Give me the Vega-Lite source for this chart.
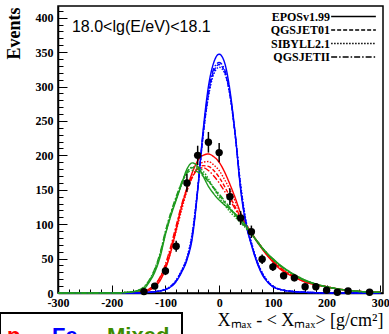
{
"$schema": "https://vega.github.io/schema/vega-lite/v6.json",
"width": 325, "height": 287,
"autosize": {"type": "none"},
"padding": {"left": 58, "top": 6, "right": 6, "bottom": 41},
"background": "white",
"config": {"view": {"stroke": "black", "strokeWidth": 1.5}},
"resolve": {"axis": {"x": "independent", "y": "independent"}},
"datasets": {
"curves": [
{"c":"p","m":"EPOSv1.99","x":-300,"y":0},{"c":"p","m":"EPOSv1.99","x":-200,"y":0},{"c":"p","m":"EPOSv1.99","x":-180,"y":0},{"c":"p","m":"EPOSv1.99","x":-160,"y":0.5},{"c":"p","m":"EPOSv1.99","x":-150,"y":1},{"c":"p","m":"EPOSv1.99","x":-140,"y":2},{"c":"p","m":"EPOSv1.99","x":-130,"y":4},{"c":"p","m":"EPOSv1.99","x":-120,"y":9},{"c":"p","m":"EPOSv1.99","x":-110,"y":18},{"c":"p","m":"EPOSv1.99","x":-100,"y":35},{"c":"p","m":"EPOSv1.99","x":-90,"y":60},{"c":"p","m":"EPOSv1.99","x":-80,"y":92},{"c":"p","m":"EPOSv1.99","x":-70,"y":125},{"c":"p","m":"EPOSv1.99","x":-60,"y":152},{"c":"p","m":"EPOSv1.99","x":-50,"y":175},{"c":"p","m":"EPOSv1.99","x":-40,"y":192},{"c":"p","m":"EPOSv1.99","x":-30,"y":200},{"c":"p","m":"EPOSv1.99","x":-20,"y":202},{"c":"p","m":"EPOSv1.99","x":-10,"y":198},{"c":"p","m":"EPOSv1.99","x":0,"y":190},{"c":"p","m":"EPOSv1.99","x":10,"y":176},{"c":"p","m":"EPOSv1.99","x":20,"y":158},{"c":"p","m":"EPOSv1.99","x":30,"y":138},{"c":"p","m":"EPOSv1.99","x":40,"y":116},{"c":"p","m":"EPOSv1.99","x":50,"y":100},{"c":"p","m":"EPOSv1.99","x":60,"y":87},{"c":"p","m":"EPOSv1.99","x":70,"y":75},{"c":"p","m":"EPOSv1.99","x":80,"y":64},{"c":"p","m":"EPOSv1.99","x":90,"y":54},{"c":"p","m":"EPOSv1.99","x":100,"y":45},{"c":"p","m":"EPOSv1.99","x":110,"y":37},{"c":"p","m":"EPOSv1.99","x":120,"y":31},{"c":"p","m":"EPOSv1.99","x":140,"y":23},{"c":"p","m":"EPOSv1.99","x":160,"y":16},{"c":"p","m":"EPOSv1.99","x":180,"y":12},{"c":"p","m":"EPOSv1.99","x":200,"y":9},{"c":"p","m":"EPOSv1.99","x":220,"y":6},{"c":"p","m":"EPOSv1.99","x":250,"y":3},{"c":"p","m":"EPOSv1.99","x":300,"y":1},
{"c":"p","m":"QGSJET01","x":-300,"y":0},{"c":"p","m":"QGSJET01","x":-200,"y":0},{"c":"p","m":"QGSJET01","x":-180,"y":0},{"c":"p","m":"QGSJET01","x":-160,"y":0.5},{"c":"p","m":"QGSJET01","x":-150,"y":1.5},{"c":"p","m":"QGSJET01","x":-140,"y":3},{"c":"p","m":"QGSJET01","x":-130,"y":6},{"c":"p","m":"QGSJET01","x":-120,"y":12},{"c":"p","m":"QGSJET01","x":-110,"y":22},{"c":"p","m":"QGSJET01","x":-100,"y":40},{"c":"p","m":"QGSJET01","x":-90,"y":65},{"c":"p","m":"QGSJET01","x":-80,"y":95},{"c":"p","m":"QGSJET01","x":-70,"y":125},{"c":"p","m":"QGSJET01","x":-60,"y":150},{"c":"p","m":"QGSJET01","x":-50,"y":168},{"c":"p","m":"QGSJET01","x":-40,"y":180},{"c":"p","m":"QGSJET01","x":-30,"y":185},{"c":"p","m":"QGSJET01","x":-20,"y":184},{"c":"p","m":"QGSJET01","x":-10,"y":178},{"c":"p","m":"QGSJET01","x":0,"y":168},{"c":"p","m":"QGSJET01","x":10,"y":155},{"c":"p","m":"QGSJET01","x":20,"y":140},{"c":"p","m":"QGSJET01","x":30,"y":125},{"c":"p","m":"QGSJET01","x":40,"y":110},{"c":"p","m":"QGSJET01","x":50,"y":98},{"c":"p","m":"QGSJET01","x":60,"y":87},{"c":"p","m":"QGSJET01","x":70,"y":76},{"c":"p","m":"QGSJET01","x":80,"y":65},{"c":"p","m":"QGSJET01","x":90,"y":55},{"c":"p","m":"QGSJET01","x":100,"y":47},{"c":"p","m":"QGSJET01","x":110,"y":39},{"c":"p","m":"QGSJET01","x":120,"y":33},{"c":"p","m":"QGSJET01","x":140,"y":24},{"c":"p","m":"QGSJET01","x":160,"y":17},{"c":"p","m":"QGSJET01","x":180,"y":12},{"c":"p","m":"QGSJET01","x":200,"y":9},{"c":"p","m":"QGSJET01","x":220,"y":6},{"c":"p","m":"QGSJET01","x":250,"y":3},{"c":"p","m":"QGSJET01","x":300,"y":1},
{"c":"p","m":"SIBYLL2.1","x":-300,"y":0},{"c":"p","m":"SIBYLL2.1","x":-200,"y":0},{"c":"p","m":"SIBYLL2.1","x":-180,"y":0},{"c":"p","m":"SIBYLL2.1","x":-160,"y":0.5},{"c":"p","m":"SIBYLL2.1","x":-150,"y":1},{"c":"p","m":"SIBYLL2.1","x":-140,"y":2},{"c":"p","m":"SIBYLL2.1","x":-130,"y":5},{"c":"p","m":"SIBYLL2.1","x":-120,"y":10},{"c":"p","m":"SIBYLL2.1","x":-110,"y":19},{"c":"p","m":"SIBYLL2.1","x":-100,"y":36},{"c":"p","m":"SIBYLL2.1","x":-90,"y":60},{"c":"p","m":"SIBYLL2.1","x":-80,"y":90},{"c":"p","m":"SIBYLL2.1","x":-70,"y":120},{"c":"p","m":"SIBYLL2.1","x":-60,"y":148},{"c":"p","m":"SIBYLL2.1","x":-50,"y":168},{"c":"p","m":"SIBYLL2.1","x":-40,"y":183},{"c":"p","m":"SIBYLL2.1","x":-30,"y":190},{"c":"p","m":"SIBYLL2.1","x":-20,"y":191},{"c":"p","m":"SIBYLL2.1","x":-10,"y":186},{"c":"p","m":"SIBYLL2.1","x":0,"y":178},{"c":"p","m":"SIBYLL2.1","x":10,"y":165},{"c":"p","m":"SIBYLL2.1","x":20,"y":150},{"c":"p","m":"SIBYLL2.1","x":30,"y":133},{"c":"p","m":"SIBYLL2.1","x":40,"y":115},{"c":"p","m":"SIBYLL2.1","x":50,"y":100},{"c":"p","m":"SIBYLL2.1","x":60,"y":88},{"c":"p","m":"SIBYLL2.1","x":70,"y":76},{"c":"p","m":"SIBYLL2.1","x":80,"y":65},{"c":"p","m":"SIBYLL2.1","x":90,"y":55},{"c":"p","m":"SIBYLL2.1","x":100,"y":46},{"c":"p","m":"SIBYLL2.1","x":110,"y":38},{"c":"p","m":"SIBYLL2.1","x":120,"y":32},{"c":"p","m":"SIBYLL2.1","x":140,"y":23},{"c":"p","m":"SIBYLL2.1","x":160,"y":16},{"c":"p","m":"SIBYLL2.1","x":180,"y":12},{"c":"p","m":"SIBYLL2.1","x":200,"y":9},{"c":"p","m":"SIBYLL2.1","x":220,"y":6},{"c":"p","m":"SIBYLL2.1","x":250,"y":3},{"c":"p","m":"SIBYLL2.1","x":300,"y":1},
{"c":"p","m":"QGSJETII","x":-300,"y":0},{"c":"p","m":"QGSJETII","x":-200,"y":0},{"c":"p","m":"QGSJETII","x":-180,"y":0},{"c":"p","m":"QGSJETII","x":-160,"y":0.5},{"c":"p","m":"QGSJETII","x":-150,"y":1.5},{"c":"p","m":"QGSJETII","x":-140,"y":3},{"c":"p","m":"QGSJETII","x":-130,"y":6},{"c":"p","m":"QGSJETII","x":-120,"y":12},{"c":"p","m":"QGSJETII","x":-110,"y":23},{"c":"p","m":"QGSJETII","x":-100,"y":42},{"c":"p","m":"QGSJETII","x":-90,"y":68},{"c":"p","m":"QGSJETII","x":-80,"y":98},{"c":"p","m":"QGSJETII","x":-70,"y":128},{"c":"p","m":"QGSJETII","x":-60,"y":152},{"c":"p","m":"QGSJETII","x":-50,"y":170},{"c":"p","m":"QGSJETII","x":-40,"y":180},{"c":"p","m":"QGSJETII","x":-30,"y":182},{"c":"p","m":"QGSJETII","x":-20,"y":178},{"c":"p","m":"QGSJETII","x":-10,"y":170},{"c":"p","m":"QGSJETII","x":0,"y":160},{"c":"p","m":"QGSJETII","x":10,"y":148},{"c":"p","m":"QGSJETII","x":20,"y":135},{"c":"p","m":"QGSJETII","x":30,"y":122},{"c":"p","m":"QGSJETII","x":40,"y":108},{"c":"p","m":"QGSJETII","x":50,"y":97},{"c":"p","m":"QGSJETII","x":60,"y":87},{"c":"p","m":"QGSJETII","x":70,"y":76},{"c":"p","m":"QGSJETII","x":80,"y":66},{"c":"p","m":"QGSJETII","x":90,"y":56},{"c":"p","m":"QGSJETII","x":100,"y":47},{"c":"p","m":"QGSJETII","x":110,"y":40},{"c":"p","m":"QGSJETII","x":120,"y":33},{"c":"p","m":"QGSJETII","x":140,"y":24},{"c":"p","m":"QGSJETII","x":160,"y":17},{"c":"p","m":"QGSJETII","x":180,"y":12},{"c":"p","m":"QGSJETII","x":200,"y":9},{"c":"p","m":"QGSJETII","x":220,"y":6},{"c":"p","m":"QGSJETII","x":250,"y":3},{"c":"p","m":"QGSJETII","x":300,"y":1},
{"c":"Fe","m":"EPOSv1.99","x":-300,"y":0},{"c":"Fe","m":"EPOSv1.99","x":-200,"y":0},{"c":"Fe","m":"EPOSv1.99","x":-180,"y":0},{"c":"Fe","m":"EPOSv1.99","x":-160,"y":0},{"c":"Fe","m":"EPOSv1.99","x":-150,"y":0},{"c":"Fe","m":"EPOSv1.99","x":-140,"y":0.5},{"c":"Fe","m":"EPOSv1.99","x":-130,"y":1},{"c":"Fe","m":"EPOSv1.99","x":-120,"y":2},{"c":"Fe","m":"EPOSv1.99","x":-110,"y":3},{"c":"Fe","m":"EPOSv1.99","x":-100,"y":5},{"c":"Fe","m":"EPOSv1.99","x":-90,"y":9},{"c":"Fe","m":"EPOSv1.99","x":-80,"y":17},{"c":"Fe","m":"EPOSv1.99","x":-70,"y":30},{"c":"Fe","m":"EPOSv1.99","x":-60,"y":48},{"c":"Fe","m":"EPOSv1.99","x":-50,"y":80},{"c":"Fe","m":"EPOSv1.99","x":-40,"y":148},{"c":"Fe","m":"EPOSv1.99","x":-30,"y":235},{"c":"Fe","m":"EPOSv1.99","x":-20,"y":300},{"c":"Fe","m":"EPOSv1.99","x":-10,"y":335},{"c":"Fe","m":"EPOSv1.99","x":0,"y":347},{"c":"Fe","m":"EPOSv1.99","x":10,"y":335},{"c":"Fe","m":"EPOSv1.99","x":20,"y":295},{"c":"Fe","m":"EPOSv1.99","x":30,"y":230},{"c":"Fe","m":"EPOSv1.99","x":40,"y":150},{"c":"Fe","m":"EPOSv1.99","x":50,"y":100},{"c":"Fe","m":"EPOSv1.99","x":60,"y":70},{"c":"Fe","m":"EPOSv1.99","x":70,"y":45},{"c":"Fe","m":"EPOSv1.99","x":80,"y":27},{"c":"Fe","m":"EPOSv1.99","x":90,"y":16},{"c":"Fe","m":"EPOSv1.99","x":100,"y":9},{"c":"Fe","m":"EPOSv1.99","x":110,"y":6},{"c":"Fe","m":"EPOSv1.99","x":120,"y":4},{"c":"Fe","m":"EPOSv1.99","x":140,"y":2},{"c":"Fe","m":"EPOSv1.99","x":160,"y":1},{"c":"Fe","m":"EPOSv1.99","x":180,"y":0.5},{"c":"Fe","m":"EPOSv1.99","x":200,"y":0},{"c":"Fe","m":"EPOSv1.99","x":220,"y":0},{"c":"Fe","m":"EPOSv1.99","x":250,"y":0},{"c":"Fe","m":"EPOSv1.99","x":300,"y":0},
{"c":"Fe","m":"QGSJET01","x":-300,"y":0},{"c":"Fe","m":"QGSJET01","x":-200,"y":0},{"c":"Fe","m":"QGSJET01","x":-180,"y":0},{"c":"Fe","m":"QGSJET01","x":-160,"y":0},{"c":"Fe","m":"QGSJET01","x":-150,"y":0},{"c":"Fe","m":"QGSJET01","x":-140,"y":0.5},{"c":"Fe","m":"QGSJET01","x":-130,"y":1},{"c":"Fe","m":"QGSJET01","x":-120,"y":2},{"c":"Fe","m":"QGSJET01","x":-110,"y":3},{"c":"Fe","m":"QGSJET01","x":-100,"y":5},{"c":"Fe","m":"QGSJET01","x":-90,"y":10},{"c":"Fe","m":"QGSJET01","x":-80,"y":18},{"c":"Fe","m":"QGSJET01","x":-70,"y":32},{"c":"Fe","m":"QGSJET01","x":-60,"y":50},{"c":"Fe","m":"QGSJET01","x":-50,"y":85},{"c":"Fe","m":"QGSJET01","x":-40,"y":150},{"c":"Fe","m":"QGSJET01","x":-30,"y":228},{"c":"Fe","m":"QGSJET01","x":-20,"y":288},{"c":"Fe","m":"QGSJET01","x":-10,"y":322},{"c":"Fe","m":"QGSJET01","x":0,"y":332},{"c":"Fe","m":"QGSJET01","x":10,"y":322},{"c":"Fe","m":"QGSJET01","x":20,"y":288},{"c":"Fe","m":"QGSJET01","x":30,"y":228},{"c":"Fe","m":"QGSJET01","x":40,"y":155},{"c":"Fe","m":"QGSJET01","x":50,"y":102},{"c":"Fe","m":"QGSJET01","x":60,"y":72},{"c":"Fe","m":"QGSJET01","x":70,"y":47},{"c":"Fe","m":"QGSJET01","x":80,"y":29},{"c":"Fe","m":"QGSJET01","x":90,"y":17},{"c":"Fe","m":"QGSJET01","x":100,"y":10},{"c":"Fe","m":"QGSJET01","x":110,"y":6},{"c":"Fe","m":"QGSJET01","x":120,"y":4},{"c":"Fe","m":"QGSJET01","x":140,"y":2},{"c":"Fe","m":"QGSJET01","x":160,"y":1},{"c":"Fe","m":"QGSJET01","x":180,"y":0.5},{"c":"Fe","m":"QGSJET01","x":200,"y":0},{"c":"Fe","m":"QGSJET01","x":220,"y":0},{"c":"Fe","m":"QGSJET01","x":250,"y":0},{"c":"Fe","m":"QGSJET01","x":300,"y":0},
{"c":"Fe","m":"SIBYLL2.1","x":-300,"y":0},{"c":"Fe","m":"SIBYLL2.1","x":-200,"y":0},{"c":"Fe","m":"SIBYLL2.1","x":-180,"y":0},{"c":"Fe","m":"SIBYLL2.1","x":-160,"y":0},{"c":"Fe","m":"SIBYLL2.1","x":-150,"y":0},{"c":"Fe","m":"SIBYLL2.1","x":-140,"y":0.5},{"c":"Fe","m":"SIBYLL2.1","x":-130,"y":1},{"c":"Fe","m":"SIBYLL2.1","x":-120,"y":2},{"c":"Fe","m":"SIBYLL2.1","x":-110,"y":3},{"c":"Fe","m":"SIBYLL2.1","x":-100,"y":6},{"c":"Fe","m":"SIBYLL2.1","x":-90,"y":10},{"c":"Fe","m":"SIBYLL2.1","x":-80,"y":19},{"c":"Fe","m":"SIBYLL2.1","x":-70,"y":33},{"c":"Fe","m":"SIBYLL2.1","x":-60,"y":52},{"c":"Fe","m":"SIBYLL2.1","x":-50,"y":88},{"c":"Fe","m":"SIBYLL2.1","x":-40,"y":152},{"c":"Fe","m":"SIBYLL2.1","x":-30,"y":228},{"c":"Fe","m":"SIBYLL2.1","x":-20,"y":285},{"c":"Fe","m":"SIBYLL2.1","x":-10,"y":318},{"c":"Fe","m":"SIBYLL2.1","x":0,"y":328},{"c":"Fe","m":"SIBYLL2.1","x":10,"y":320},{"c":"Fe","m":"SIBYLL2.1","x":20,"y":288},{"c":"Fe","m":"SIBYLL2.1","x":30,"y":230},{"c":"Fe","m":"SIBYLL2.1","x":40,"y":158},{"c":"Fe","m":"SIBYLL2.1","x":50,"y":105},{"c":"Fe","m":"SIBYLL2.1","x":60,"y":74},{"c":"Fe","m":"SIBYLL2.1","x":70,"y":48},{"c":"Fe","m":"SIBYLL2.1","x":80,"y":30},{"c":"Fe","m":"SIBYLL2.1","x":90,"y":18},{"c":"Fe","m":"SIBYLL2.1","x":100,"y":10},{"c":"Fe","m":"SIBYLL2.1","x":110,"y":6},{"c":"Fe","m":"SIBYLL2.1","x":120,"y":4},{"c":"Fe","m":"SIBYLL2.1","x":140,"y":2},{"c":"Fe","m":"SIBYLL2.1","x":160,"y":1},{"c":"Fe","m":"SIBYLL2.1","x":180,"y":0.5},{"c":"Fe","m":"SIBYLL2.1","x":200,"y":0},{"c":"Fe","m":"SIBYLL2.1","x":220,"y":0},{"c":"Fe","m":"SIBYLL2.1","x":250,"y":0},{"c":"Fe","m":"SIBYLL2.1","x":300,"y":0},
{"c":"Fe","m":"QGSJETII","x":-300,"y":0},{"c":"Fe","m":"QGSJETII","x":-200,"y":0},{"c":"Fe","m":"QGSJETII","x":-180,"y":0},{"c":"Fe","m":"QGSJETII","x":-160,"y":0},{"c":"Fe","m":"QGSJETII","x":-150,"y":0},{"c":"Fe","m":"QGSJETII","x":-140,"y":0.5},{"c":"Fe","m":"QGSJETII","x":-130,"y":1},{"c":"Fe","m":"QGSJETII","x":-120,"y":2},{"c":"Fe","m":"QGSJETII","x":-110,"y":3},{"c":"Fe","m":"QGSJETII","x":-100,"y":5},{"c":"Fe","m":"QGSJETII","x":-90,"y":9},{"c":"Fe","m":"QGSJETII","x":-80,"y":17},{"c":"Fe","m":"QGSJETII","x":-70,"y":31},{"c":"Fe","m":"QGSJETII","x":-60,"y":49},{"c":"Fe","m":"QGSJETII","x":-50,"y":83},{"c":"Fe","m":"QGSJETII","x":-40,"y":150},{"c":"Fe","m":"QGSJETII","x":-30,"y":232},{"c":"Fe","m":"QGSJETII","x":-20,"y":292},{"c":"Fe","m":"QGSJETII","x":-10,"y":326},{"c":"Fe","m":"QGSJETII","x":0,"y":335},{"c":"Fe","m":"QGSJETII","x":10,"y":325},{"c":"Fe","m":"QGSJETII","x":20,"y":290},{"c":"Fe","m":"QGSJETII","x":30,"y":229},{"c":"Fe","m":"QGSJETII","x":40,"y":152},{"c":"Fe","m":"QGSJETII","x":50,"y":101},{"c":"Fe","m":"QGSJETII","x":60,"y":71},{"c":"Fe","m":"QGSJETII","x":70,"y":46},{"c":"Fe","m":"QGSJETII","x":80,"y":28},{"c":"Fe","m":"QGSJETII","x":90,"y":17},{"c":"Fe","m":"QGSJETII","x":100,"y":9},{"c":"Fe","m":"QGSJETII","x":110,"y":6},{"c":"Fe","m":"QGSJETII","x":120,"y":4},{"c":"Fe","m":"QGSJETII","x":140,"y":2},{"c":"Fe","m":"QGSJETII","x":160,"y":1},{"c":"Fe","m":"QGSJETII","x":180,"y":0.5},{"c":"Fe","m":"QGSJETII","x":200,"y":0},{"c":"Fe","m":"QGSJETII","x":220,"y":0},{"c":"Fe","m":"QGSJETII","x":250,"y":0},{"c":"Fe","m":"QGSJETII","x":300,"y":0},
{"c":"Mixed","m":"EPOSv1.99","x":-300,"y":0},{"c":"Mixed","m":"EPOSv1.99","x":-200,"y":0},{"c":"Mixed","m":"EPOSv1.99","x":-180,"y":0.5},{"c":"Mixed","m":"EPOSv1.99","x":-160,"y":2},{"c":"Mixed","m":"EPOSv1.99","x":-150,"y":3},{"c":"Mixed","m":"EPOSv1.99","x":-140,"y":6},{"c":"Mixed","m":"EPOSv1.99","x":-130,"y":16},{"c":"Mixed","m":"EPOSv1.99","x":-120,"y":30},{"c":"Mixed","m":"EPOSv1.99","x":-110,"y":52},{"c":"Mixed","m":"EPOSv1.99","x":-100,"y":85},{"c":"Mixed","m":"EPOSv1.99","x":-90,"y":112},{"c":"Mixed","m":"EPOSv1.99","x":-80,"y":135},{"c":"Mixed","m":"EPOSv1.99","x":-70,"y":158},{"c":"Mixed","m":"EPOSv1.99","x":-60,"y":180},{"c":"Mixed","m":"EPOSv1.99","x":-50,"y":189},{"c":"Mixed","m":"EPOSv1.99","x":-40,"y":184},{"c":"Mixed","m":"EPOSv1.99","x":-30,"y":170},{"c":"Mixed","m":"EPOSv1.99","x":-20,"y":155},{"c":"Mixed","m":"EPOSv1.99","x":-10,"y":144},{"c":"Mixed","m":"EPOSv1.99","x":0,"y":135},{"c":"Mixed","m":"EPOSv1.99","x":10,"y":128},{"c":"Mixed","m":"EPOSv1.99","x":20,"y":122},{"c":"Mixed","m":"EPOSv1.99","x":30,"y":115},{"c":"Mixed","m":"EPOSv1.99","x":40,"y":107},{"c":"Mixed","m":"EPOSv1.99","x":50,"y":98},{"c":"Mixed","m":"EPOSv1.99","x":60,"y":87},{"c":"Mixed","m":"EPOSv1.99","x":70,"y":75},{"c":"Mixed","m":"EPOSv1.99","x":80,"y":65},{"c":"Mixed","m":"EPOSv1.99","x":90,"y":57},{"c":"Mixed","m":"EPOSv1.99","x":100,"y":50},{"c":"Mixed","m":"EPOSv1.99","x":110,"y":43},{"c":"Mixed","m":"EPOSv1.99","x":120,"y":37},{"c":"Mixed","m":"EPOSv1.99","x":140,"y":27},{"c":"Mixed","m":"EPOSv1.99","x":160,"y":19},{"c":"Mixed","m":"EPOSv1.99","x":180,"y":13},{"c":"Mixed","m":"EPOSv1.99","x":200,"y":9},{"c":"Mixed","m":"EPOSv1.99","x":220,"y":6},{"c":"Mixed","m":"EPOSv1.99","x":250,"y":3},{"c":"Mixed","m":"EPOSv1.99","x":300,"y":1},
{"c":"Mixed","m":"QGSJET01","x":-300,"y":0},{"c":"Mixed","m":"QGSJET01","x":-200,"y":0},{"c":"Mixed","m":"QGSJET01","x":-180,"y":0.5},{"c":"Mixed","m":"QGSJET01","x":-160,"y":2},{"c":"Mixed","m":"QGSJET01","x":-150,"y":4},{"c":"Mixed","m":"QGSJET01","x":-140,"y":8},{"c":"Mixed","m":"QGSJET01","x":-130,"y":18},{"c":"Mixed","m":"QGSJET01","x":-120,"y":33},{"c":"Mixed","m":"QGSJET01","x":-110,"y":56},{"c":"Mixed","m":"QGSJET01","x":-100,"y":88},{"c":"Mixed","m":"QGSJET01","x":-90,"y":115},{"c":"Mixed","m":"QGSJET01","x":-80,"y":138},{"c":"Mixed","m":"QGSJET01","x":-70,"y":160},{"c":"Mixed","m":"QGSJET01","x":-60,"y":176},{"c":"Mixed","m":"QGSJET01","x":-50,"y":182},{"c":"Mixed","m":"QGSJET01","x":-40,"y":180},{"c":"Mixed","m":"QGSJET01","x":-30,"y":173},{"c":"Mixed","m":"QGSJET01","x":-20,"y":163},{"c":"Mixed","m":"QGSJET01","x":-10,"y":152},{"c":"Mixed","m":"QGSJET01","x":0,"y":142},{"c":"Mixed","m":"QGSJET01","x":10,"y":132},{"c":"Mixed","m":"QGSJET01","x":20,"y":122},{"c":"Mixed","m":"QGSJET01","x":30,"y":113},{"c":"Mixed","m":"QGSJET01","x":40,"y":104},{"c":"Mixed","m":"QGSJET01","x":50,"y":95},{"c":"Mixed","m":"QGSJET01","x":60,"y":86},{"c":"Mixed","m":"QGSJET01","x":70,"y":76},{"c":"Mixed","m":"QGSJET01","x":80,"y":66},{"c":"Mixed","m":"QGSJET01","x":90,"y":57},{"c":"Mixed","m":"QGSJET01","x":100,"y":49},{"c":"Mixed","m":"QGSJET01","x":110,"y":42},{"c":"Mixed","m":"QGSJET01","x":120,"y":36},{"c":"Mixed","m":"QGSJET01","x":140,"y":26},{"c":"Mixed","m":"QGSJET01","x":160,"y":18},{"c":"Mixed","m":"QGSJET01","x":180,"y":13},{"c":"Mixed","m":"QGSJET01","x":200,"y":9},{"c":"Mixed","m":"QGSJET01","x":220,"y":6},{"c":"Mixed","m":"QGSJET01","x":250,"y":3},{"c":"Mixed","m":"QGSJET01","x":300,"y":1},
{"c":"Mixed","m":"SIBYLL2.1","x":-300,"y":0},{"c":"Mixed","m":"SIBYLL2.1","x":-200,"y":0},{"c":"Mixed","m":"SIBYLL2.1","x":-180,"y":0.5},{"c":"Mixed","m":"SIBYLL2.1","x":-160,"y":2},{"c":"Mixed","m":"SIBYLL2.1","x":-150,"y":4},{"c":"Mixed","m":"SIBYLL2.1","x":-140,"y":8},{"c":"Mixed","m":"SIBYLL2.1","x":-130,"y":17},{"c":"Mixed","m":"SIBYLL2.1","x":-120,"y":32},{"c":"Mixed","m":"SIBYLL2.1","x":-110,"y":55},{"c":"Mixed","m":"SIBYLL2.1","x":-100,"y":86},{"c":"Mixed","m":"SIBYLL2.1","x":-90,"y":113},{"c":"Mixed","m":"SIBYLL2.1","x":-80,"y":136},{"c":"Mixed","m":"SIBYLL2.1","x":-70,"y":157},{"c":"Mixed","m":"SIBYLL2.1","x":-60,"y":175},{"c":"Mixed","m":"SIBYLL2.1","x":-50,"y":183},{"c":"Mixed","m":"SIBYLL2.1","x":-40,"y":183},{"c":"Mixed","m":"SIBYLL2.1","x":-30,"y":177},{"c":"Mixed","m":"SIBYLL2.1","x":-20,"y":166},{"c":"Mixed","m":"SIBYLL2.1","x":-10,"y":152},{"c":"Mixed","m":"SIBYLL2.1","x":0,"y":139},{"c":"Mixed","m":"SIBYLL2.1","x":10,"y":128},{"c":"Mixed","m":"SIBYLL2.1","x":20,"y":118},{"c":"Mixed","m":"SIBYLL2.1","x":30,"y":110},{"c":"Mixed","m":"SIBYLL2.1","x":40,"y":102},{"c":"Mixed","m":"SIBYLL2.1","x":50,"y":94},{"c":"Mixed","m":"SIBYLL2.1","x":60,"y":86},{"c":"Mixed","m":"SIBYLL2.1","x":70,"y":76},{"c":"Mixed","m":"SIBYLL2.1","x":80,"y":66},{"c":"Mixed","m":"SIBYLL2.1","x":90,"y":57},{"c":"Mixed","m":"SIBYLL2.1","x":100,"y":49},{"c":"Mixed","m":"SIBYLL2.1","x":110,"y":42},{"c":"Mixed","m":"SIBYLL2.1","x":120,"y":36},{"c":"Mixed","m":"SIBYLL2.1","x":140,"y":26},{"c":"Mixed","m":"SIBYLL2.1","x":160,"y":18},{"c":"Mixed","m":"SIBYLL2.1","x":180,"y":13},{"c":"Mixed","m":"SIBYLL2.1","x":200,"y":9},{"c":"Mixed","m":"SIBYLL2.1","x":220,"y":6},{"c":"Mixed","m":"SIBYLL2.1","x":250,"y":3},{"c":"Mixed","m":"SIBYLL2.1","x":300,"y":1},
{"c":"Mixed","m":"QGSJETII","x":-300,"y":0},{"c":"Mixed","m":"QGSJETII","x":-200,"y":0},{"c":"Mixed","m":"QGSJETII","x":-180,"y":0.5},{"c":"Mixed","m":"QGSJETII","x":-160,"y":2},{"c":"Mixed","m":"QGSJETII","x":-150,"y":4},{"c":"Mixed","m":"QGSJETII","x":-140,"y":9},{"c":"Mixed","m":"QGSJETII","x":-130,"y":19},{"c":"Mixed","m":"QGSJETII","x":-120,"y":35},{"c":"Mixed","m":"QGSJETII","x":-110,"y":58},{"c":"Mixed","m":"QGSJETII","x":-100,"y":90},{"c":"Mixed","m":"QGSJETII","x":-90,"y":117},{"c":"Mixed","m":"QGSJETII","x":-80,"y":140},{"c":"Mixed","m":"QGSJETII","x":-70,"y":160},{"c":"Mixed","m":"QGSJETII","x":-60,"y":174},{"c":"Mixed","m":"QGSJETII","x":-50,"y":178},{"c":"Mixed","m":"QGSJETII","x":-40,"y":176},{"c":"Mixed","m":"QGSJETII","x":-30,"y":170},{"c":"Mixed","m":"QGSJETII","x":-20,"y":162},{"c":"Mixed","m":"QGSJETII","x":-10,"y":153},{"c":"Mixed","m":"QGSJETII","x":0,"y":144},{"c":"Mixed","m":"QGSJETII","x":10,"y":134},{"c":"Mixed","m":"QGSJETII","x":20,"y":124},{"c":"Mixed","m":"QGSJETII","x":30,"y":114},{"c":"Mixed","m":"QGSJETII","x":40,"y":104},{"c":"Mixed","m":"QGSJETII","x":50,"y":95},{"c":"Mixed","m":"QGSJETII","x":60,"y":86},{"c":"Mixed","m":"QGSJETII","x":70,"y":76},{"c":"Mixed","m":"QGSJETII","x":80,"y":66},{"c":"Mixed","m":"QGSJETII","x":90,"y":57},{"c":"Mixed","m":"QGSJETII","x":100,"y":49},{"c":"Mixed","m":"QGSJETII","x":110,"y":42},{"c":"Mixed","m":"QGSJETII","x":120,"y":36},{"c":"Mixed","m":"QGSJETII","x":140,"y":26},{"c":"Mixed","m":"QGSJETII","x":160,"y":18},{"c":"Mixed","m":"QGSJETII","x":180,"y":13},{"c":"Mixed","m":"QGSJETII","x":200,"y":9},{"c":"Mixed","m":"QGSJETII","x":220,"y":6},{"c":"Mixed","m":"QGSJETII","x":250,"y":3},{"c":"Mixed","m":"QGSJETII","x":300,"y":1}
],
"points": [
{"x":-140,"y":2,"lo":0.6,"hi":3.4},{"x":-120,"y":10,"lo":7,"hi":13},{"x":-100,"y":32,"lo":26,"hi":38},{"x":-80,"y":68,"lo":60,"hi":76},{"x":-60,"y":160,"lo":147,"hi":173},{"x":-40,"y":200,"lo":186,"hi":214},{"x":-20,"y":219,"lo":204,"hi":234},{"x":0,"y":204,"lo":190,"hi":218},{"x":20,"y":140,"lo":128,"hi":152},{"x":40,"y":109,"lo":99,"hi":119},{"x":60,"y":89,"lo":80,"hi":98},{"x":80,"y":49,"lo":42,"hi":56},{"x":100,"y":38,"lo":32,"hi":44},{"x":120,"y":25,"lo":20,"hi":30},{"x":140,"y":22,"lo":17,"hi":27},{"x":160,"y":9,"lo":6,"hi":12},{"x":180,"y":9,"lo":6,"hi":12},{"x":200,"y":4,"lo":2,"hi":6},{"x":220,"y":1,"lo":0,"hi":2},{"x":240,"y":3,"lo":1.3,"hi":4.7},{"x":280,"y":1,"lo":0,"hi":2}
]
},
"layer": [
{
"data": {"name": "curves"},
"mark": {"type": "line", "strokeWidth": 1.4, "interpolate": "monotone"},
"encoding": {
"x": {"field": "x", "type": "quantitative", "scale": {"domain": [-300, 305], "nice": false, "zero": false},
"axis": {"orient": "bottom", "values": [-300,-200,-100,0,100,200,300],
"labelExpr": "'' + datum.value",
"tickSize": -8, "labelPadding": 12, "labelFont": "Liberation Serif", "labelFontWeight": "bold", "labelFontSize": 12, "labelColor": "black",
"tickColor": "black", "domainColor": "black", "domainWidth": 1.5, "grid": false, "labelFlush": false, "labelOverlap": false,
"title": "Xₘₐₓ - < Xₘₐₓ> [g/cm²]", "titleFont": "Liberation Serif", "titleFontSize": 18, "titleFontWeight": "normal",
"titleAnchor": "end", "titleAlign": "right", "titleColor": "black", "titlePadding": 3}},
"y": {"field": "y", "type": "quantitative", "scale": {"domain": [0, 417], "nice": false, "zero": false},
"axis": {"orient": "left", "values": [0,50,100,150,200,250,300,350,400],
"labelExpr": "'' + datum.value",
"tickSize": -9, "labelPadding": 14, "labelFont": "Liberation Serif", "labelFontWeight": "bold", "labelFontSize": 12, "labelColor": "black",
"tickColor": "black", "domainColor": "black", "domainWidth": 1.5, "grid": false, "labelOverlap": false, "labelFlush": false,
"title": "Events", "titleFont": "Liberation Serif", "titleFontSize": 18, "titleFontWeight": "bold", "titleColor": "black",
"titleAngle": -90, "titleAnchor": "end", "titleAlign": "right", "titleBaseline": "middle", "titleX": -44, "titleY": 1}},
"color": {"field": "c", "type": "nominal", "scale": {"domain": ["p", "Fe", "Mixed"], "range": ["#ff0000", "#0000ff", "#1f9a1f"]},
"legend": {"orient": "none", "legendX": -58, "legendY": 307, "direction": "horizontal", "title": null,
"symbolOpacity": 0, "symbolSize": 0, "symbolStrokeWidth": 0, "labelOffset": -27,
"labelFont": "Liberation Sans", "labelFontSize": 22, "labelFontWeight": "bold", "columnPadding": 29, "padding": 12,
"strokeColor": "black", "fillColor": "white",
"encode": {"legend": {"update": {"strokeWidth": {"value": 2}}},
"labels": {"update": {"fill": {"signal": "datum.label === 'p' ? '#ff0000' : datum.label === 'Fe' ? '#0000ff' : '#3c8c00'"}}}}}},
"strokeDash": {"field": "m", "type": "nominal", "scale": {"domain": ["EPOSv1.99", "QGSJET01", "SIBYLL2.1", "QGSJETII"], "range": [[1, 0], [4, 2], [1.5, 1.5], [6, 2, 1.5, 2]]},
"legend": {"orient": "top-right", "offset": 4, "title": null, "symbolType": "M-4,0H4", "symbolSize": 125, "symbolStrokeColor": "black",
"symbolStrokeWidth": 1.3, "labelFont": "Liberation Serif", "labelFontSize": 12, "labelFontWeight": "bold", "labelColor": "black",
"labelAlign": "right", "labelOffset": -30, "rowPadding": 0.5, "padding": 0, "labelLimit": 0}}
}
},
{
"data": {"name": "points"},
"mark": {"type": "rule", "color": "black", "strokeWidth": 1.5},
"encoding": {
"x": {"field": "x", "type": "quantitative",
"axis": {"orient": "bottom", "values": [-280,-260,-240,-220,-180,-160,-140,-120,-80,-60,-40,-20,20,40,60,80,120,140,160,180,220,240,260,280],
"labels": false, "domain": false, "grid": false, "title": null, "tickSize": -4, "tickColor": "black"}},
"y": {"field": "lo", "type": "quantitative",
"axis": {"orient": "left", "values": [10,20,30,40,60,70,80,90,110,120,130,140,160,170,180,190,210,220,230,240,260,270,280,290,310,320,330,340,360,370,380,390,410],
"labels": false, "domain": false, "grid": false, "title": null, "tickSize": -5, "tickColor": "black"}},
"y2": {"field": "hi"}}
},
{
"data": {"name": "points"},
"mark": {"type": "point", "filled": true, "color": "black", "opacity": 1, "size": 55},
"encoding": {"x": {"field": "x", "type": "quantitative", "axis": null}, "y": {"field": "y", "type": "quantitative", "axis": null}}
},
{
"data": {"values": [{}]},
"mark": {"type": "text", "align": "left", "baseline": "middle", "font": "Liberation Sans", "fontSize": 16, "color": "black"},
"encoding": {"x": {"datum": -274, "axis": null}, "y": {"datum": 387, "axis": null}, "text": {"value": "18.0<lg(E/eV)<18.1"}}
}
]
}
